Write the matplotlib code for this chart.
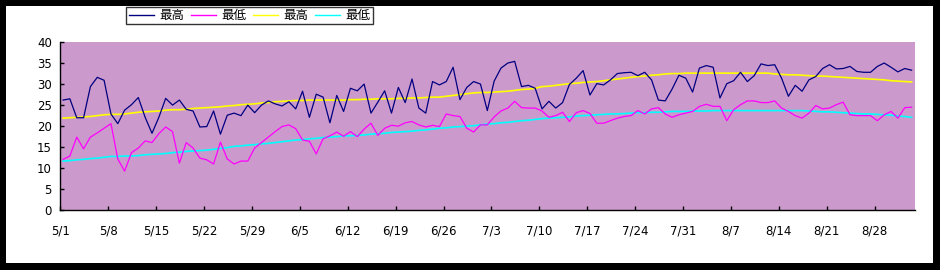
import matplotlib.pyplot as plt
import numpy as np
import pandas as pd
from matplotlib.patches import Rectangle

# daily temperatures, 5/1 - 9/2
dates = pd.date_range("2007-05-01", periods=125)
high = [26.2, 26.5, 22.0, 22.0, 29.4, 31.6, 30.9, 22.9, 20.6, 23.8,
        25.1, 26.8, 22.1, 18.3, 22.1, 26.6, 25.0, 26.2, 24.0, 23.6,
        19.8, 19.9, 23.6, 18.1, 22.6, 23.1, 22.5, 25.0, 23.2, 25.0,
        26.0, 25.3, 24.8, 25.8, 24.1, 28.3, 22.1, 27.6, 26.9, 20.8,
        27.3, 23.5, 29.0, 28.4, 30.0, 23.1, 25.7, 28.4, 23.1, 29.2,
        25.6, 31.2, 24.3, 23.1, 30.6, 29.8, 30.6, 34.0, 26.3, 29.2,
        30.6, 30.0, 23.7, 30.7, 33.8, 35.0, 35.4, 29.4, 29.7, 29.0,
        24.1, 25.9, 24.3, 25.6, 29.9, 31.4, 33.2, 27.4, 30.1, 29.8,
        31.0, 32.5, 32.7, 32.8, 32.0, 32.8, 31.0, 26.2, 26.0, 28.8,
        32.1, 31.4, 28.1, 33.8, 34.4, 34.0, 26.7, 30.1, 30.8, 32.8,
        30.6, 32.0, 34.8, 34.4, 34.6, 31.4, 27.1, 29.7, 28.3, 31.0,
        31.8, 33.7, 34.6, 33.6, 33.7, 34.2, 33.0, 32.8, 32.8, 34.2,
        35.0, 34.0, 32.9, 33.7, 33.3]
low = [12.1, 12.9, 17.4, 14.6, 17.4, 18.4, 19.5, 20.6, 12.2, 9.3,
       13.7, 14.8, 16.5, 16.1, 18.2, 19.8, 18.7, 11.2, 16.1, 14.8,
       12.4, 12.0, 11.0, 16.2, 12.2, 11.0, 11.7, 11.7, 14.8, 16.1,
       17.4, 18.7, 19.9, 20.3, 19.4, 16.7, 16.4, 13.4, 17.0, 17.7,
       18.6, 17.6, 18.7, 17.5, 19.3, 20.7, 17.8, 19.5, 20.2, 20.0,
       20.8, 21.1, 20.3, 19.8, 20.2, 19.9, 22.9, 22.5, 22.3, 19.5,
       18.6, 20.3, 20.3, 22.2, 23.6, 24.3, 25.9, 24.4, 24.3, 24.3,
       23.6, 22.1, 22.5, 23.3, 21.1, 23.2, 23.7, 23.0, 20.7, 20.7,
       21.3, 21.9, 22.3, 22.5, 23.7, 22.9, 24.1, 24.4, 22.9, 22.1,
       22.7, 23.1, 23.5, 24.7, 25.2, 24.7, 24.7, 21.3, 23.9, 25.1,
       26.0, 26.0, 25.6, 25.6, 26.0, 24.3, 23.5, 22.5, 21.9, 23.1,
       24.9, 24.1, 24.3, 25.1, 25.7, 22.7, 22.5, 22.5, 22.5, 21.3,
       22.7, 23.5, 21.9, 24.4, 24.5]

# normal (average-year) values
high_normal = [21.9, 22.0, 22.1, 22.2, 22.3, 22.5, 22.7, 22.8, 22.8, 22.9,
               23.1, 23.3, 23.4, 23.5, 23.6, 23.8, 23.9, 23.9, 24.0, 24.2,
               24.3, 24.4, 24.5, 24.6, 24.8, 24.9, 25.1, 25.2, 25.3, 25.5,
               25.6, 25.8, 25.9, 26.0, 26.1, 26.1, 26.2, 26.2, 26.2, 26.2,
               26.2, 26.2, 26.3, 26.3, 26.4, 26.4, 26.5, 26.5, 26.5, 26.6,
               26.6, 26.7, 26.7, 26.8, 26.9, 26.9, 27.1, 27.3, 27.5, 27.7,
               27.9, 28.0, 28.0, 28.1, 28.2, 28.3, 28.5, 28.7, 28.8, 29.0,
               29.4, 29.5, 29.7, 29.9, 30.1, 30.2, 30.4, 30.5, 30.6, 30.8,
               31.0, 31.2, 31.4, 31.6, 31.8, 31.9, 32.1, 32.2, 32.4, 32.5,
               32.5, 32.6, 32.6, 32.6, 32.6, 32.6, 32.6, 32.6, 32.6, 32.6,
               32.6, 32.6, 32.6, 32.6, 32.4, 32.3, 32.2, 32.2, 32.1, 32.0,
               31.9, 31.9, 31.8, 31.7, 31.6, 31.5, 31.4, 31.3, 31.2, 31.1,
               31.0, 30.8, 30.7, 30.6, 30.5]
low_normal = [11.7, 11.8, 12.0, 12.1, 12.3, 12.4, 12.6, 12.8, 12.8, 12.9,
              12.9, 13.0, 13.2, 13.3, 13.4, 13.5, 13.7, 13.8, 14.0, 14.1,
              14.2, 14.3, 14.5, 14.7, 14.9, 15.2, 15.3, 15.5, 15.6, 15.8,
              15.9, 16.1, 16.3, 16.5, 16.7, 16.8, 17.0, 17.1, 17.3, 17.4,
              17.5, 17.7, 17.7, 17.8, 17.9, 18.1, 18.2, 18.3, 18.5, 18.6,
              18.7, 18.8, 19.0, 19.1, 19.3, 19.5, 19.6, 19.8, 19.9, 20.0,
              20.1, 20.3, 20.5, 20.6, 20.8, 20.9, 21.1, 21.3, 21.4, 21.6,
              21.8, 21.9, 22.0, 22.1, 22.2, 22.4, 22.5, 22.6, 22.7, 22.8,
              22.9, 22.9, 23.0, 23.1, 23.2, 23.2, 23.3, 23.3, 23.4, 23.5,
              23.5, 23.5, 23.6, 23.6, 23.6, 23.7, 23.7, 23.7, 23.7, 23.7,
              23.7, 23.7, 23.7, 23.7, 23.7, 23.7, 23.7, 23.7, 23.7, 23.6,
              23.5, 23.4, 23.4, 23.3, 23.2, 23.1, 23.0, 22.9, 22.9, 22.8,
              22.7, 22.6, 22.4, 22.3, 22.1]

x = np.arange(len(dates))

fig = plt.figure(figsize=(9.4, 2.7), dpi=100)
fig.patch.set_facecolor("black")
fig.add_artist(Rectangle((6/940, 1 - 263/270), 927/940, 257/270,
                         transform=fig.transFigure, facecolor="white",
                         edgecolor="none", zorder=0))

ax = fig.add_axes([60.3/940, 1 - 210.3/270, 854.7/940, 168.3/270])
ax.set_facecolor("#CC99CC")

ax.plot(x, high, color="#000080", lw=0.9, label="最高", zorder=3)
ax.plot(x, low, color="#FF00FF", lw=0.9, label="最低", zorder=3)
ax.plot(x, high_normal, color="#FFFF00", lw=1.2, label="最高", zorder=2)
ax.plot(x, low_normal, color="#00FFFF", lw=1.2, label="最低", zorder=2)

ax.set_xlim(-0.4, 124.5)
ax.set_ylim(0, 40)
ax.set_yticks(np.arange(0, 41, 5))
ticks = np.arange(0, len(dates), 7)
ax.set_xticks(ticks - 0.4)
ax.set_xticklabels([f"{d.month}/{d.day}" for d in dates[ticks]])
ax.tick_params(direction="in", length=3, width=1, labelsize=8.5, pad=10)
ax.tick_params(axis="y", pad=6)
for s in ["top", "right"]:
    ax.spines[s].set_visible(False)
for s in ["left", "bottom"]:
    ax.spines[s].set_linewidth(1)

leg = fig.legend(loc="center", bbox_to_anchor=(249.5/940, 1 - 15.5/270), ncol=4,
                 prop={"family": ["Noto Sans CJK JP", "DejaVu Sans"], "size": 9},
                 frameon=True, fancybox=False, edgecolor="black",
                 handlelength=2.0, handletextpad=0.45, columnspacing=0.5,
                 borderpad=0.2, borderaxespad=0)
leg.get_frame().set_linewidth(1)
for h in leg.get_lines():
    h.set_linewidth(1)

plt.savefig("out.png", dpi=100, facecolor=fig.get_facecolor())
